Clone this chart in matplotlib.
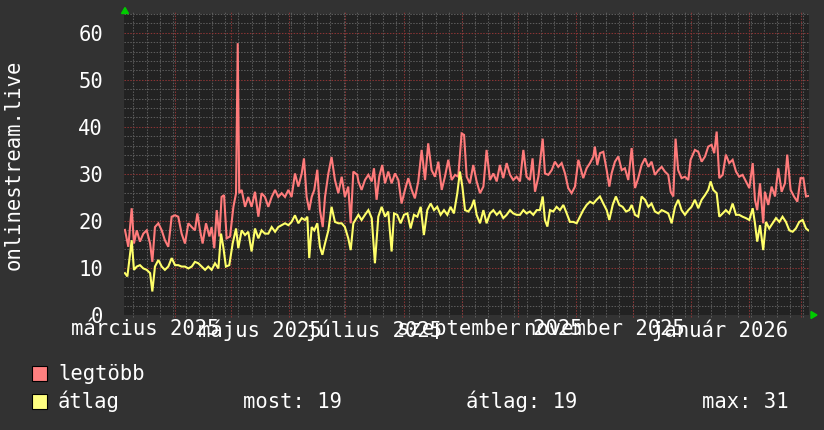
import numpy as np
import matplotlib
matplotlib.use("Agg")
import matplotlib.pyplot as plt
import matplotlib.dates as mdates
from matplotlib.patches import Rectangle, Polygon

# days since 2025-03-05 and values
max_days = [0.5, 2.3, 4.1, 5.3, 6.8, 8.5, 10.3, 12.1, 13.9, 15.1, 16.5, 18.3, 20.1, 21.8, 23.6, 25.4,
            27.2, 28.9, 30.7, 32.5, 34.3, 36.1, 37.8, 39.1, 40.5, 41.9, 43.7, 45.5, 46.7, 48.1, 49.4,
            50.8, 52.0, 53.3, 54.7, 56.5, 58.3, 59.7, 60.6, 61.4, 62.7, 64.5, 66.2, 68.0, 69.8, 71.6,
            73.3, 75.1, 76.9, 78.7, 80.5, 82.2, 84.0, 85.8, 87.6, 89.3, 91.1, 92.9, 94.7, 95.9, 97.3,
            98.7, 100.0, 101.4, 103.0, 104.4, 105.9, 107.1, 108.9, 110.6, 112.4, 114.2, 116.0, 117.7,
            119.5, 120.8, 122.2, 124.3,
            124.9, 126.6, 128.4, 130.2, 132.0, 133.2, 134.6, 136.0, 137.6, 139.1, 140.8, 142.6, 144.4,
            146.2, 147.9, 149.7, 151.5, 153.3, 155.0, 156.8, 158.6, 160.4, 162.1, 163.9, 165.7, 167.5,
            169.3, 171.0, 172.8, 174.6, 176.4, 178.1, 179.9, 181.2, 182.6, 184.3, 186.1, 187.9, 189.7,
            191.5, 193.2, 195.0, 196.8, 198.6, 200.3, 202.1, 203.9, 205.7, 207.4, 209.2, 211.0, 212.8,
            214.5, 216.3, 217.7, 219.0, 220.8, 223.1, 224.3, 226.1, 227.9, 229.6, 231.4, 233.2, 235.0,
            236.7, 238.5, 240.3, 242.1,
            244.7, 246.5, 248.3, 250.1, 250.9, 252.2, 253.6, 255.4, 257.2, 258.6, 259.8, 261.6, 263.4,
            265.2, 266.9, 268.7, 270.5, 272.3, 274.0, 275.8, 277.6, 279.4, 281.1, 282.9, 284.7, 286.5,
            288.2, 290.0, 291.3, 292.7, 293.9, 295.3, 297.1, 298.9, 300.7, 301.9, 304.2, 306.0, 307.8,
            309.6, 311.3, 313.1, 314.5, 315.8, 317.2, 319.0, 320.7, 322.5, 324.3, 326.1, 327.8, 329.6,
            331.4, 333.2, 335.0, 336.2, 337.4, 338.9, 340.6, 341.5, 343.3, 345.1, 346.9, 348.6, 350.4,
            352.2, 353.4, 355.2, 357.0, 358.8, 360.5, 362.0, 363.4, 364.6]
max_vals = [18.1, 14.5, 22.7, 15.2, 18.0, 15.6, 17.3, 18.0, 15.2, 11.3, 18.7, 19.5, 18.0, 15.9, 14.5, 20.9,
            21.2, 20.9, 17.3, 15.2, 19.5, 18.7, 18.0, 21.6, 18.0, 15.2, 19.5, 16.7, 18.7, 14.2, 22.3,
            16.7, 25.1, 25.5, 16.3, 16.7, 23.0, 25.9, 57.8, 25.9, 26.6, 23.0, 25.1, 23.0, 26.2, 20.9,
            25.9, 25.1, 23.0, 25.1, 26.6, 25.1, 25.9, 25.1, 26.6, 25.1, 30.1, 27.3, 30.1, 33.3, 25.1,
            22.3, 25.1, 26.6, 30.9, 22.3, 18.7, 25.1, 30.1, 33.6, 28.7, 25.9, 29.4, 25.1,
            27.3, 19.5, 30.5, 29.8,
            28.4, 26.6, 28.7, 29.8, 28.4, 31.2, 24.5, 29.4, 31.9, 28.0, 30.5, 28.0, 30.1,
            28.7, 23.7, 26.6, 29.1, 26.6, 24.8, 28.4, 35.1, 28.7, 36.5, 30.8, 29.4, 32.6,
            26.6, 29.4, 33.0, 28.7, 29.8, 29.4, 38.6, 38.3, 29.4, 28.0, 31.9, 28.4, 25.9,
            27.3, 35.1, 28.7, 30.1, 28.4, 31.9, 29.1, 32.3, 29.8, 28.7, 29.4, 28.4, 35.1,
            29.4, 28.7, 33.3, 26.2, 29.4, 37.5, 30.1, 29.8, 30.8, 32.6, 31.5, 32.3, 30.1,
            27.0, 25.9, 27.3, 33.0,
            29.1, 31.2, 32.3, 33.7, 35.8, 31.9, 34.4, 34.7, 30.8, 27.3, 30.1, 32.6, 33.7,
            30.8, 31.2, 28.7, 35.5, 27.0, 29.1, 31.9, 33.3, 31.5, 32.6, 29.8, 30.8, 31.5,
            30.5, 29.8, 26.2, 25.2, 37.5, 30.8, 29.1, 29.4, 28.7, 33.0, 35.1, 34.7, 32.6,
            33.7, 35.8, 36.2, 34.4, 39.0, 29.1, 29.8, 34.1, 32.3, 33.0, 30.5, 29.4, 29.8,
            28.4, 27.0, 32.3, 24.5, 22.3, 28.0, 19.5, 26.2, 23.4, 27.3, 25.2, 31.2, 26.2,
            28.0, 34.1, 26.6, 25.2, 24.1, 29.1, 29.1, 25.2, 25.3]

avg_days = [0.5, 1.8, 4.1, 5.3, 6.8, 8.5, 10.3, 12.1, 13.9, 15.1, 16.5, 18.3, 20.1, 21.8, 23.6, 25.4,
            27.2, 28.9, 30.7, 32.5, 34.3, 36.1, 37.8, 39.6, 41.4, 43.2, 44.9, 46.7, 48.5, 50.3, 51.7,
            52.9, 54.3, 56.1, 57.9, 59.7, 60.9, 62.7, 64.5, 66.2, 68.0, 69.8, 71.6, 73.3, 75.1, 76.9,
            78.7, 80.5, 82.2, 84.0, 85.8, 87.6, 89.3, 91.1, 92.9, 94.7, 96.4, 97.7, 98.7, 100.0, 101.4,
            103.0, 104.4, 105.7, 107.1, 108.9, 110.6, 112.4, 114.2, 116.0, 117.7, 119.5, 120.8, 122.2,
            124.3,
            124.9, 126.6, 128.4, 130.2, 132.0, 133.7, 135.5, 137.3, 139.1, 140.8, 142.6, 143.9, 145.6,
            147.4, 149.2, 151.0, 152.7, 154.5, 156.3, 158.1, 159.8, 161.6, 163.4, 165.2, 166.9, 168.7,
            170.5, 172.3, 174.0, 175.8, 177.6, 179.0, 180.3, 181.7, 183.5, 185.2, 186.5, 187.9, 189.7,
            191.5, 193.2, 195.0, 196.8, 198.6, 200.3, 202.1, 203.9, 205.7, 207.4, 209.2, 211.0, 212.8,
            214.5, 216.3, 218.1, 219.9, 221.6, 223.1, 224.3, 225.6, 227.0, 228.7, 230.5, 232.3, 234.1,
            235.9, 237.6, 239.4, 241.2,
            244.7, 246.5, 248.3, 250.1, 251.8, 253.6, 255.4, 257.2, 258.6, 260.4, 262.1, 263.9, 265.7,
            267.5, 269.2, 270.5, 272.3, 274.0, 275.8, 277.6, 279.4, 281.1, 282.9, 284.7, 286.5, 288.2,
            290.0, 291.8, 293.6, 295.3, 297.1, 298.9, 300.7, 302.4, 304.2, 306.0, 307.8, 309.6, 311.3,
            312.6, 314.0, 315.8, 317.2, 319.0, 320.7, 322.5, 324.3, 326.1, 327.8, 329.6, 331.4, 333.2,
            335.0, 336.2, 337.4, 338.9, 340.6, 342.1, 343.8, 345.6, 347.4, 349.2, 350.9, 352.7, 354.5,
            356.3, 358.0, 359.8, 361.6, 363.4, 364.6]
avg_vals = [8.9, 8.2, 15.9, 9.6, 10.3, 10.6, 9.9, 9.6, 8.9, 5.0, 10.3, 11.7, 10.3, 9.6, 10.3, 12.1,
            10.6, 10.6, 10.3, 10.3, 9.9, 10.3, 11.3, 11.0, 10.3, 9.6, 10.3, 9.6, 11.0, 9.9, 17.3,
            14.5, 10.3, 10.6, 15.2, 18.4, 14.2, 18.0, 17.0, 17.7, 13.5, 18.4, 16.3, 18.0, 17.3, 17.3,
            18.7, 17.7, 18.7, 19.1, 19.5, 19.1, 19.8, 21.2, 19.5, 20.6, 20.2, 20.9, 12.1, 18.7, 18.0,
            19.5, 14.5, 12.8, 15.2, 18.0, 23.0, 19.8, 19.5, 19.5, 18.7, 16.3, 13.8, 19.5,
            20.9,
            21.3, 20.2, 21.3, 22.3, 20.6, 11.0, 20.9, 23.0, 20.9, 22.0, 13.5, 21.6, 21.3,
            19.5, 21.3, 21.6, 18.4, 21.3, 20.9, 23.0, 17.0, 22.3, 23.7, 22.3, 23.0, 21.3,
            22.3, 21.3, 23.0, 21.6, 25.9, 30.5, 27.3, 22.3, 22.0, 23.0, 24.5, 21.3, 19.5,
            22.3, 19.5, 21.6, 22.3, 21.3, 22.0, 20.6, 21.3, 22.3, 21.6, 21.3, 21.3, 22.3,
            21.6, 22.0, 21.3, 22.3, 22.3, 25.2, 20.2, 18.8, 22.3, 22.0, 23.0, 22.3, 23.4,
            21.6, 19.8, 19.8, 19.5,
            22.3, 23.4, 24.1, 23.7, 24.5, 25.2, 23.7, 22.3, 20.2, 23.4, 25.2, 23.4, 23.0,
            22.0, 22.3, 23.4, 21.3, 20.9, 25.2, 24.5, 23.0, 23.7, 22.0, 21.6, 22.3, 22.0,
            21.6, 19.5, 23.0, 24.5, 22.3, 21.3, 22.3, 23.0, 24.5, 22.7, 24.5, 25.5, 26.6,
            28.4, 26.6, 25.9, 20.9, 21.6, 22.3, 21.6, 23.7, 21.3, 21.3, 20.9, 20.6, 20.2,
            22.7, 19.5, 15.6, 19.1, 13.8, 19.8, 18.4, 19.5, 20.6, 19.8, 20.9, 19.8, 18.0,
            17.7, 18.4, 19.8, 20.2, 18.4, 18.0]

start = np.datetime64("2025-03-05")
span_days = 365
month_names = ["március", "május", "július", "szeptember", "november", "január"]
label_months = ["2025-03", "2025-05", "2025-07", "2025-09", "2025-11", "2026-01"]

BG = "#323232"
PLOT_BG = "#222222"
RED = "#ff7b7b"
YEL = "#ffff6a"

plt.rcParams["font.family"] = ["DejaVu Sans Mono"]
fs = 14.8

fig = plt.figure(figsize=(8.24, 4.30), dpi=100, facecolor=BG)
ax = fig.add_axes([124 / 824, 115 / 430, 685 / 824, 301 / 430])
ax.set_facecolor(PLOT_BG)

x0 = mdates.date2num(start)
ax.set_xlim(x0, x0 + span_days)
ax.set_ylim(0, 64)

# grid: weeks (Mondays) and months, then value grid
mondays = np.arange(np.datetime64("2025-03-10"), start + span_days, np.timedelta64(7, "D"))
months = np.arange(np.datetime64("2025-04"), np.datetime64("2026-04"), np.timedelta64(1, "M")).astype("datetime64[D]")
months = months[months < start + span_days]
for m in mdates.date2num(mondays):
    ax.axvline(m, color="#5c5c5c", lw=0.75, ls=(0, (1.4, 1.4)), zorder=1, clip_on=False, ymin=-0.008, ymax=1.006)
for v in range(0, 65, 2):
    if v % 10:
        ax.axhline(v, color="#5c5c5c", lw=0.75, ls=(0, (1.4, 1.4)), zorder=1)
for m in mdates.date2num(months):
    ax.axvline(m, color="#8a3434", lw=0.75, ls=(0, (1.4, 1.4)), zorder=2, clip_on=False, ymin=-0.008, ymax=1.006)
for v in range(10, 61, 10):
    ax.axhline(v, color="#8a3434", lw=0.75, ls=(0, (1.4, 1.4)), zorder=2)

ax.plot(x0 + np.array(max_days), max_vals, color=RED, lw=1.5, zorder=3, solid_joinstyle="miter")
ax.plot(x0 + np.array(avg_days), avg_vals, color=YEL, lw=1.5, zorder=4, solid_joinstyle="miter")

for s in ax.spines.values():
    s.set_visible(False)

# month labels sit in the middle of the month
lab_pos = []
for lm in label_months:
    a = np.datetime64(lm).astype("datetime64[D]")
    b = (np.datetime64(lm) + np.timedelta64(1, "M")).astype("datetime64[D]")
    lab_pos.append(mdates.date2num(a) + (b - a).astype(int) / 2)
labels = [f"{n} {lm[:4]}" for n, lm in zip(month_names, label_months)]
ax.set_xticks(lab_pos, labels)
ax.set_yticks(range(0, 61, 10))
ax.tick_params(axis="both", length=0, colors="white", labelsize=fs)
ax.tick_params(axis="x", pad=3)
ax.tick_params(axis="y", pad=15)

fig.text(14 / 824, 1 - 165 / 430, "onlinestream.live", rotation=90, color="white",
         fontsize=fs, ha="center", va="center")

# axis arrows
fig.patches.append(Polygon([[121.5 / 824, 1 - 13.5 / 430], [128.5 / 824, 1 - 13.5 / 430], [125 / 824, 1 - 7.5 / 430]],
                           closed=True, color="#00cc00", transform=fig.transFigure))
fig.patches.append(Polygon([[811 / 824, 1 - 311.5 / 430], [811 / 824, 1 - 318.5 / 430], [817 / 824, 1 - 315 / 430]],
                           closed=True, color="#00cc00", transform=fig.transFigure))

# legend
for ypix, col, name in [(366, "#ff8080", "legtöbb"), (394, "#ffff80", "átlag")]:
    fig.patches.append(Rectangle((32 / 824, 1 - (ypix + 15) / 430), 15 / 824, 15 / 430,
                                 facecolor=col, edgecolor="black", lw=0.8, transform=fig.transFigure))
    fig.text(58 / 824, 1 - (ypix + 14) / 430, name, color="white", fontsize=fs, va="baseline")
fig.text(243 / 824, 1 - 408 / 430, "most: 19", color="white", fontsize=fs, va="baseline")
fig.text(466 / 824, 1 - 408 / 430, "átlag: 19", color="white", fontsize=fs, va="baseline")
fig.text(702 / 824, 1 - 408 / 430, "max: 31", color="white", fontsize=fs, va="baseline")

fig.savefig("out.png", dpi=100, facecolor=BG)
